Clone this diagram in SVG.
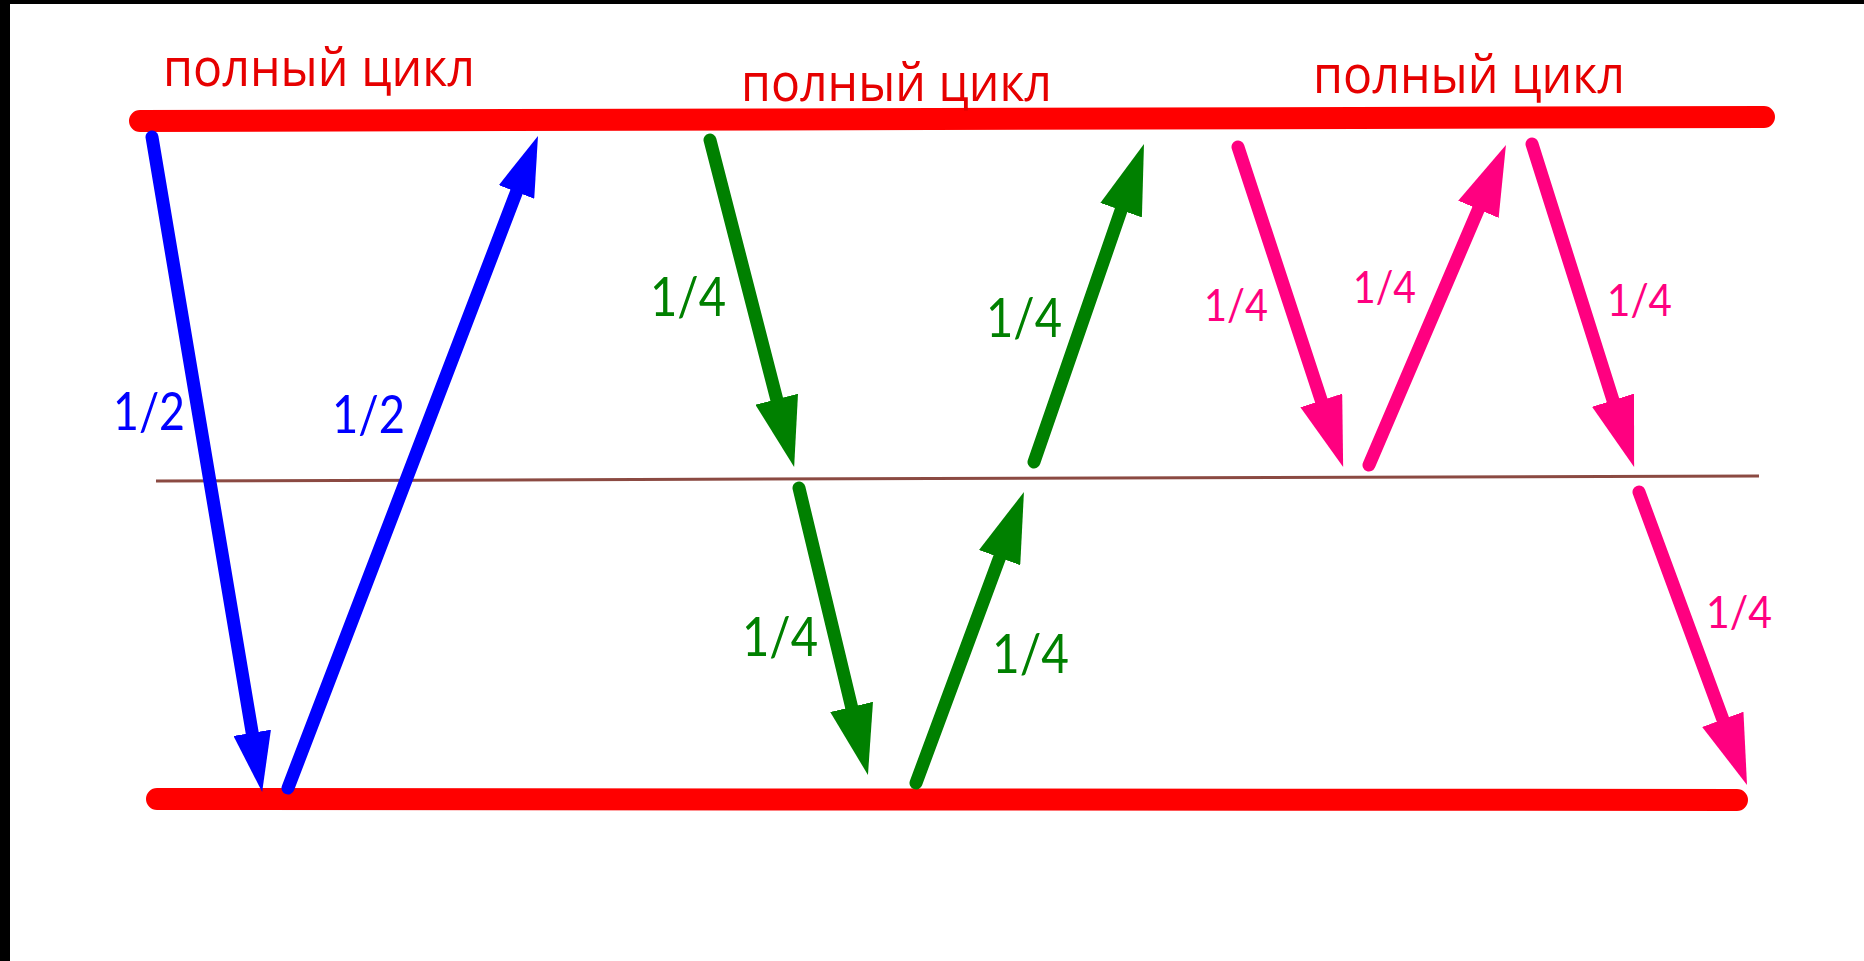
<svg xmlns="http://www.w3.org/2000/svg" width="1864" height="961" viewBox="0 0 1864 961">
  <style>
    .rail { stroke: #FF0000; stroke-width: 22; stroke-linecap: round; fill: none; }
    .mid { stroke: #8B4A42; stroke-width: 3; fill: none; }
    .arr { stroke-width: 13; stroke-linecap: round; fill: none; }
    .blue { stroke: #0000FF; }
    .green { stroke: #008000; }
    .pink { stroke: #FF0080; }
    .title { font-family: "Open Sans", "Noto Sans", sans-serif; font-size: 53px; fill: #E60000; }
    .lbl { font-family: Lato, "Open Sans", sans-serif; }
    .lb { fill: #0000FF; font-size: 52px; }
    .lg { fill: #008000; font-size: 55px; }
    .lp { fill: #FF0080; font-size: 45px; }
  </style>
  <defs>
    <marker id="hb" markerUnits="userSpaceOnUse" viewBox="0 -19 60 38" markerWidth="60" markerHeight="38" refX="0" refY="0" orient="auto">
      <path d="M0,-19 L60,0 L0,19 Z" fill="#0000FF"/>
    </marker>
    <marker id="hg" markerUnits="userSpaceOnUse" viewBox="0 -22 70 44" markerWidth="70" markerHeight="44" refX="0" refY="0" orient="auto">
      <path d="M0,-22 L70,0 L0,22 Z" fill="#008000"/>
    </marker>
    <marker id="hp" markerUnits="userSpaceOnUse" viewBox="0 -22 70 44" markerWidth="70" markerHeight="44" refX="0" refY="0" orient="auto">
      <path d="M0,-22 L70,0 L0,22 Z" fill="#FF0080"/>
    </marker>
  </defs>
  <rect x="0" y="0" width="1864" height="961" fill="#FFFFFF"/>
  <rect x="0" y="0" width="10" height="961" fill="#000000"/>
  <rect x="0" y="0" width="1864" height="4" fill="#000000"/>

  <g id="rails">
    <line class="rail" x1="140" y1="121" x2="1764" y2="117"/>
    <line class="rail" x1="157" y1="799" x2="1737" y2="800"/>
    <line class="mid" x1="156" y1="481" x2="1759" y2="476"/>
  </g>

  <g id="titles">
    <text class="title" x="163" y="86" textLength="312" lengthAdjust="spacingAndGlyphs">полный цикл</text>
    <text class="title" x="741" y="101" textLength="311" lengthAdjust="spacingAndGlyphs">полный цикл</text>
    <text class="title" x="1313" y="93" textLength="312" lengthAdjust="spacingAndGlyphs">полный цикл</text>
  </g>

  <g id="connectors">
    <path class="arr blue" d="M152,137 L252.2,732.8" marker-end="url(#hb)"/>
    <path class="arr blue" d="M288,788 L516.5,192" marker-end="url(#hb)"/>
    <path class="arr green" d="M710,140 L776.7,399.2" marker-end="url(#hg)"/>
    <path class="arr green" d="M1034,462 L1121.1,210.2" marker-end="url(#hg)"/>
    <path class="arr green" d="M799,488 L851.6,706.9" marker-end="url(#hg)"/>
    <path class="arr green" d="M916,783 L999.6,557.6" marker-end="url(#hg)"/>
    <path class="arr pink" d="M1238,147 L1321.3,400.5" marker-end="url(#hp)"/>
    <path class="arr pink" d="M1369,465 L1478.4,209.3" marker-end="url(#hp)"/>
    <path class="arr pink" d="M1532,144 L1613,400.2" marker-end="url(#hp)"/>
    <path class="arr pink" d="M1639,492 L1722.8,719.3" marker-end="url(#hp)"/>
  </g>

  <g id="labels">
    <text class="lbl lb" x="113" y="430" textLength="72" lengthAdjust="spacingAndGlyphs">1/2</text>
    <text class="lbl lb" x="332" y="433" textLength="73" lengthAdjust="spacingAndGlyphs">1/2</text>
    <text class="lbl lg" x="650" y="316" textLength="76" lengthAdjust="spacingAndGlyphs">1/4</text>
    <text class="lbl lg" x="986" y="337" textLength="76" lengthAdjust="spacingAndGlyphs">1/4</text>
    <text class="lbl lg" x="742" y="656" textLength="76" lengthAdjust="spacingAndGlyphs">1/4</text>
    <text class="lbl lg" x="992" y="673" textLength="77" lengthAdjust="spacingAndGlyphs">1/4</text>
    <text class="lbl lp" x="1204" y="321" textLength="64" lengthAdjust="spacingAndGlyphs">1/4</text>
    <text class="lbl lp" x="1353" y="303" textLength="63" lengthAdjust="spacingAndGlyphs">1/4</text>
    <text class="lbl lp" x="1607" y="316" textLength="65" lengthAdjust="spacingAndGlyphs">1/4</text>
    <text class="lbl lp" x="1706" y="628" textLength="66" lengthAdjust="spacingAndGlyphs">1/4</text>
  </g>
</svg>
